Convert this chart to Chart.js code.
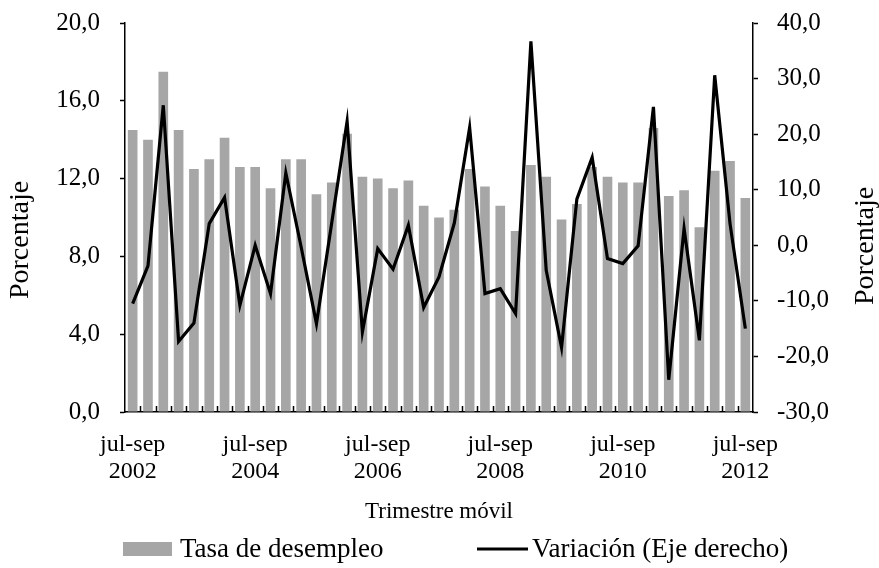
<!DOCTYPE html>
<html>
<head>
<meta charset="utf-8">
<script src="https://cdn.jsdelivr.net/npm/chart.js@4"></script>
<style>
  html, body { margin: 0; padding: 0; background: #fff; }
  #c { display: block; }
</style>
</head>
<body>
<canvas id="c" width="879" height="568"></canvas>
<script>
const quarterNames = ['jul-sep', 'oct-dic', 'ene-mar', 'abr-jun'];
const categories = [];
for (let i = 0; i < 41; i++) {
  const q = quarterNames[i % 4];
  const year = 2002 + Math.floor((i + 2) / 4);
  categories.push(q + ' ' + year);
}
const tickEvery = 8;

const tasaDesempleo = [14.5, 14.0, 17.5, 14.5, 12.5, 13.0, 14.1, 12.6, 12.6, 11.5,
  13.0, 13.0, 11.2, 11.8, 14.3, 12.1, 12.0, 11.5, 11.9, 10.6,
  10.0, 10.4, 12.5, 11.6, 10.6, 9.3, 12.7, 12.1, 9.9, 10.7,
  12.6, 12.1, 11.8, 11.8, 14.6, 11.1, 11.4, 9.5, 12.4, 12.9, 11.0];

const variacion = [-10.5, -3.7, 25.2, -17.3, -14.0, 3.9, 8.6, -10.8, 0.0, -8.7,
  13.0, -0.3, -14.1, 4.1, 22.3, -15.6, -0.6, -4.3, 3.6, -11.2,
  -5.7, 4.0, 21.2, -8.7, -7.8, -12.3, 36.7, -4.5, -18.4, 8.3,
  15.8, -2.4, -3.3, -0.1, 24.9, -24.2, 3.0, -17.1, 30.6, 3.9, -15.0];

const leftTicks = { min: 0, max: 20, step: 4 };
const rightTicks = { min: -30, max: 40, step: 10 };

const seriesNames = ['Tasa de desempleo', 'Variación (Eje derecho)'];
const seriesColors = ['#a6a6a6', '#000000'];
const xTitle = 'Trimestre móvil';
const yTitle = 'Porcentaje';

const FONT = 'Liberation Serif';
const fmt = v => Number(v).toFixed(1).replace('.', ',');

const innerTicks = {
  id: 'innerTicks',
  afterDraw(chart) {
    const x = chart.scales.x;
    const ctx = chart.ctx;
    const bottom = chart.chartArea.bottom;
    ctx.save();
    ctx.strokeStyle = '#000';
    ctx.lineWidth = 1.5;
    ctx.beginPath();
    for (let i = 1; i < categories.length; i++) {
      const px = Math.round((x.getPixelForValue(i - 1) + x.getPixelForValue(i)) / 2) + 0.5;
      ctx.moveTo(px, bottom);
      ctx.lineTo(px, bottom - 6);
    }
    ctx.stroke();
    ctx.restore();
  }
};

const sideTitles = {
  id: 'sideTitles',
  afterDraw(chart) {
    const ctx = chart.ctx;
    ctx.save();
    ctx.fillStyle = '#000';
    ctx.font = '28px "' + FONT + '"';
    ctx.textAlign = 'center';
    ctx.textBaseline = 'middle';
    [[21, 240], [866, 246]].forEach(([px, py]) => {
      ctx.save();
      ctx.translate(px, py);
      ctx.rotate(-Math.PI / 2);
      ctx.fillText(yTitle, 0, 0);
      ctx.restore();
    });
    ctx.restore();
  }
};

const customLegend = {
  id: 'customLegend',
  afterDraw(chart) {
    const ctx = chart.ctx;
    const cy = 549;
    ctx.save();
    ctx.font = '27px "' + FONT + '"';
    ctx.textBaseline = 'middle';
    ctx.textAlign = 'left';
    ctx.fillStyle = seriesColors[0];
    ctx.fillRect(123, cy - 7, 49, 14);
    ctx.fillStyle = '#000';
    ctx.fillText(seriesNames[0], 180, cy + 1);
    ctx.strokeStyle = seriesColors[1];
    ctx.lineWidth = 3.2;
    ctx.beginPath();
    ctx.moveTo(477, cy);
    ctx.lineTo(528, cy);
    ctx.stroke();
    ctx.fillText(seriesNames[1], 532, cy + 1);
    ctx.restore();
  }
};

const noScalePad = s => { s.paddingTop = 0; s.paddingBottom = 0; };

new Chart(document.getElementById('c'), {
  data: {
    labels: categories,
    datasets: [
      {
        type: 'bar',
        label: seriesNames[0],
        data: tasaDesempleo,
        yAxisID: 'y',
        backgroundColor: seriesColors[0],
        borderWidth: 0,
        barPercentage: 0.63,
        categoryPercentage: 1.0,
        order: 2
      },
      {
        type: 'line',
        label: seriesNames[1],
        data: variacion,
        yAxisID: 'y1',
        borderColor: seriesColors[1],
        backgroundColor: seriesColors[1],
        borderWidth: 3.2,
        pointRadius: 0,
        tension: 0,
        order: 1
      }
    ]
  },
  options: {
    responsive: false,
    animation: false,
    layout: { padding: { left: 0, right: 0, top: 23, bottom: 38 } },
    plugins: {
      tooltip: { enabled: false },
      legend: { display: false }
    },
    scales: {
      x: {
        type: 'category',
        offset: true,
        afterFit: s => { s.height = 118; },
        grid: { display: false, drawTicks: false },
        border: { display: true, color: '#000', width: 1.5 },
        ticks: {
          autoSkip: false,
          maxRotation: 0,
          padding: 19,
          color: '#000',
          font: { family: FONT, size: 24, lineHeight: 1.12 },
          callback: function (v, i) {
            if (i % tickEvery !== 0) return '';
            return categories[i].split(' ');
          }
        },
        title: {
          display: true,
          text: xTitle,
          color: '#000',
          font: { family: FONT, size: 23 },
          padding: { top: 0, bottom: 4 }
        }
      },
      y: {
        position: 'left',
        min: leftTicks.min,
        max: leftTicks.max,
        afterFit: s => { s.width = 125; noScalePad(s); },
        grid: { drawOnChartArea: false, drawTicks: true, tickLength: 5, color: '#000', tickWidth: 1.5 },
        border: { display: true, color: '#000', width: 1.5 },
        ticks: {
          stepSize: leftTicks.step,
          padding: 20,
          color: '#000',
          font: { family: FONT, size: 25 },
          callback: v => fmt(v)
        }
      },
      y1: {
        position: 'right',
        min: rightTicks.min,
        max: rightTicks.max,
        afterFit: s => { s.width = 126; noScalePad(s); },
        grid: { drawOnChartArea: false, drawTicks: true, tickLength: 5, color: '#000', tickWidth: 1.5 },
        border: { display: true, color: '#000', width: 1.5 },
        ticks: {
          stepSize: rightTicks.step,
          padding: 19,
          color: '#000',
          font: { family: FONT, size: 25 },
          callback: v => fmt(v)
        }
      }
    }
  },
  plugins: [innerTicks, sideTitles, customLegend]
});
</script>
</body>
</html>
